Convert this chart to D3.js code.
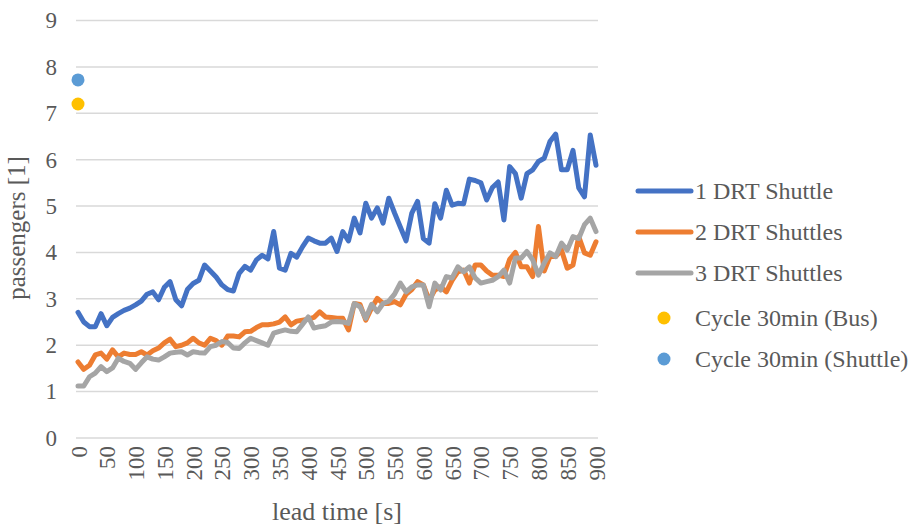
<!DOCTYPE html>
<html>
<head>
<meta charset="utf-8">
<script src="https://cdn.jsdelivr.net/npm/d3@7"></script>
<style>
  body { margin: 0; background: #fff; }
  text { font-family: "Liberation Serif", "Times New Roman", serif; fill: #595959; }
</style>
</head>
<body>
<div id="chart"></div>
<script>
// lead time in seconds, one point every 10 s
var leadTimes = d3.range(0, 901, 10);

var shuttle1 = [2.71, 2.5, 2.4, 2.4, 2.68, 2.42, 2.6, 2.68, 2.75, 2.8,
  2.87, 2.95, 3.1, 3.15, 2.98, 3.25, 3.37, 2.98, 2.85, 3.2,
  3.33, 3.4, 3.73, 3.6, 3.47, 3.3, 3.2, 3.17, 3.55, 3.7,
  3.62, 3.84, 3.94, 3.86, 4.45, 3.66, 3.62, 3.98, 3.9, 4.12,
  4.31, 4.25, 4.2, 4.2, 4.31, 4.02, 4.45, 4.25, 4.74, 4.42,
  5.06, 4.74, 4.96, 4.63, 5.17, 4.85, 4.55, 4.25, 4.85, 5.1,
  4.3, 4.2, 5.05, 4.74, 5.34, 5.02, 5.06, 5.05, 5.58, 5.55,
  5.5, 5.13, 5.4, 5.52, 4.7, 5.85, 5.7, 5.17, 5.7, 5.78,
  5.96, 6.03, 6.39, 6.55, 5.78, 5.78, 6.2, 5.39, 5.2, 6.53, 5.88];

var shuttle2 = [1.64, 1.48, 1.57, 1.79, 1.83, 1.7, 1.9, 1.75, 1.83, 1.8,
  1.8, 1.86, 1.79, 1.88, 1.94, 2.05, 2.13, 1.97, 2.0, 2.05,
  2.15, 2.05, 2.0, 2.15, 2.1, 2.0, 2.2, 2.2, 2.18, 2.29,
  2.3, 2.38, 2.44, 2.44, 2.46, 2.5, 2.61, 2.44, 2.52, 2.54,
  2.56, 2.6, 2.72, 2.61, 2.6, 2.58, 2.58, 2.33, 2.9, 2.88,
  2.54, 2.8, 3.01, 2.9, 2.9, 2.94, 2.87, 3.1, 3.2, 3.37,
  3.3, 2.97, 3.19, 3.26, 3.15, 3.4, 3.58, 3.62, 3.34, 3.73,
  3.73, 3.6, 3.51, 3.51, 3.48, 3.85, 4.0, 3.69, 3.69, 3.48,
  4.56, 3.6, 3.91, 3.91, 4.05, 3.66, 3.73, 4.34, 3.99, 3.94, 4.23];

var shuttle3 = [1.12, 1.12, 1.32, 1.4, 1.54, 1.43, 1.51, 1.72, 1.65, 1.61,
  1.48, 1.62, 1.75, 1.7, 1.68, 1.75, 1.83, 1.85, 1.86, 1.79,
  1.86, 1.84, 1.83, 1.97, 2.0, 2.08, 2.06, 1.94, 1.93, 2.05,
  2.15, 2.1, 2.05, 2.0, 2.26, 2.3, 2.33, 2.3, 2.29, 2.45,
  2.61, 2.37, 2.4, 2.42, 2.5, 2.51, 2.5, 2.47, 2.9, 2.83,
  2.58, 2.88, 2.72, 2.9, 2.95, 3.1, 3.34, 3.15, 3.26, 3.3,
  3.3, 2.83, 3.34, 3.19, 3.48, 3.45, 3.69, 3.58, 3.69, 3.45,
  3.34, 3.37, 3.4, 3.48, 3.62, 3.34, 3.88, 3.88, 4.02, 3.84,
  3.51, 3.77, 3.99, 3.91, 4.2, 4.05, 4.34, 4.3, 4.6, 4.74, 4.45];

var cycleBus = 7.2;
var cycleShuttle = 7.72;

var seriesNames = ["1 DRT Shuttle", "2 DRT Shuttles", "3 DRT Shuttles"];
var pointNames = ["Cycle 30min (Bus)", "Cycle 30min (Shuttle)"];
var xTicks = d3.range(0, 901, 50);
var yTicks = d3.range(0, 10, 1);

var colors = ["#4472C4", "#ED7D31", "#A5A5A5"];
var pointColors = ["#FFC000", "#5B9BD5"];

var width = 911, height = 529;

var x = d3.scaleLinear().domain([0, 900]).range([78, 596]);
var y = d3.scaleLinear().domain([0, 9]).range([438, 20.5]);

var svg = d3.select("#chart").append("svg")
  .attr("width", width)
  .attr("height", height);

// grid
svg.append("g").selectAll("line")
  .data(yTicks)
  .enter().append("line")
  .attr("x1", 76).attr("x2", 598)
  .attr("y1", function(d) { return y(d); })
  .attr("y2", function(d) { return y(d); })
  .attr("stroke", "#d9d9d9")
  .attr("stroke-width", 1.5);

// y axis labels
var yAxis = d3.axisLeft(y).tickValues(yTicks).tickSize(0).tickPadding(0);
var gy = svg.append("g").attr("transform", "translate(57,0)").call(yAxis);
gy.select(".domain").remove();
gy.selectAll("text")
  .style("font-family", "Liberation Serif")
  .style("font-size", "23px")
  .attr("fill", "#595959");

// x axis labels, rotated
var xAxis = d3.axisBottom(x).tickValues(xTicks).tickSize(0).tickPadding(0);
var gx = svg.append("g").attr("transform", "translate(0,446)").call(xAxis);
gx.select(".domain").remove();
gx.selectAll("text")
  .style("font-family", "Liberation Serif")
  .style("font-size", "23px")
  .attr("fill", "#595959")
  .attr("transform", "rotate(-90)")
  .attr("x", 0)
  .attr("y", 0)
  .attr("dy", "0.35em")
  .style("text-anchor", "end");

// axis titles
svg.append("text")
  .attr("x", 337).attr("y", 520)
  .attr("text-anchor", "middle")
  .style("font-size", "26px")
  .text("lead time [s]");

svg.append("text")
  .attr("transform", "translate(25,228) rotate(-90)")
  .attr("text-anchor", "middle")
  .style("font-size", "25px")
  .text("passengers [1]");

// lines
var line = d3.line()
  .x(function(d, i) { return x(leadTimes[i]); })
  .y(function(d) { return y(d); });

[shuttle1, shuttle2, shuttle3].forEach(function(s, k) {
  svg.append("path")
    .datum(s)
    .attr("fill", "none")
    .attr("stroke", colors[k])
    .attr("stroke-width", 5)
    .attr("stroke-linejoin", "round")
    .attr("stroke-linecap", "round")
    .attr("d", line);
});

// single points at lead time 0
[cycleBus, cycleShuttle].forEach(function(v, k) {
  svg.append("circle")
    .attr("cx", x(0))
    .attr("cy", y(v))
    .attr("r", 6.5)
    .attr("fill", pointColors[k]);
});

// legend
var legend = svg.append("g");
seriesNames.forEach(function(name, k) {
  var ly = 191 + k * 41;
  legend.append("line")
    .attr("x1", 638).attr("x2", 691)
    .attr("y1", ly).attr("y2", ly)
    .attr("stroke", colors[k])
    .attr("stroke-width", 5)
    .attr("stroke-linecap", "round");
  legend.append("text")
    .attr("x", 695).attr("y", ly)
    .attr("dy", "0.35em")
    .style("font-size", "24px")
    .text(name);
});
pointNames.forEach(function(name, k) {
  var ly = 191 + (k + 3) * 41 + 4;
  legend.append("circle")
    .attr("cx", 664).attr("cy", ly)
    .attr("r", 6.5)
    .attr("fill", pointColors[k]);
  legend.append("text")
    .attr("x", 695).attr("y", ly)
    .attr("dy", "0.35em")
    .style("font-size", "24px")
    .text(name);
});
</script>
</body>
</html>
